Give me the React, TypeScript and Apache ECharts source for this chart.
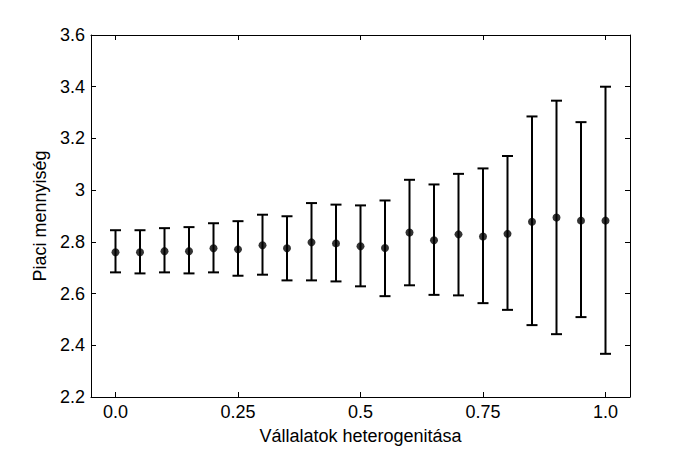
import React, { useEffect, useRef } from "react";
import * as echarts from "echarts";

const xValues = [0, 0.05, 0.1, 0.15, 0.2, 0.25, 0.3, 0.35, 0.4, 0.45, 0.5, 0.55, 0.6, 0.65, 0.7, 0.75, 0.8, 0.85, 0.9, 0.95, 1.0];
const means = [2.760, 2.760, 2.764, 2.764, 2.775, 2.771, 2.787, 2.775, 2.798, 2.794, 2.783, 2.776, 2.836, 2.806, 2.829, 2.821, 2.831, 2.878, 2.894, 2.882, 2.882];
const uppers = [2.845, 2.845, 2.853, 2.857, 2.872, 2.880, 2.905, 2.899, 2.950, 2.944, 2.941, 2.960, 3.040, 3.022, 3.063, 3.084, 3.132, 3.285, 3.346, 3.263, 3.400];
const lowers = [2.682, 2.678, 2.682, 2.678, 2.682, 2.669, 2.673, 2.651, 2.651, 2.647, 2.628, 2.590, 2.632, 2.595, 2.593, 2.563, 2.537, 2.478, 2.443, 2.509, 2.367];
const xTicks = [0, 0.25, 0.5, 0.75, 1.0];
const xTickLabels = ["0.0", "0.25", "0.5", "0.75", "1.0"];

const FONT = "'Liberation Sans', Arial, sans-serif";
const FS = 18;

export default function App() {
  const ref = useRef<HTMLDivElement>(null);
  useEffect(() => {
    if (!ref.current) return;
    const chart = echarts.init(ref.current, null, { renderer: "svg" });
    const axisLine = { show: true, onZero: false, lineStyle: { color: "#000", width: 1 } };
    const tickIn = { show: true, inside: true, length: 5, lineStyle: { color: "#000" } };
    chart.setOption({
      animation: false,
      backgroundColor: "#fff",
      grid: { left: 91, right: 66, top: 35, bottom: 49 },
      xAxis: [
        {
          type: "value",
          min: -0.05,
          max: 1.05,
          name: "Vállalatok heterogenitása",
          nameLocation: "middle",
          nameGap: 30,
          nameTextStyle: { color: "#000", fontSize: FS, fontFamily: FONT },
          axisLine,
          axisTick: { ...tickIn, customValues: xTicks },
          axisLabel: {
            customValues: xTicks,
            color: "#000",
            fontSize: FS,
            fontFamily: FONT,
            margin: 6,
            formatter: (v: number) => {
              const i = xTicks.findIndex((t) => Math.abs(t - v) < 1e-9);
              return i >= 0 ? xTickLabels[i] : "";
            },
          },
          splitLine: { show: false },
        },
        {
          type: "value",
          position: "top",
          min: -0.05,
          max: 1.05,
          axisLine,
          axisTick: { ...tickIn, customValues: xTicks },
          axisLabel: { show: false },
          splitLine: { show: false },
        },
      ],
      yAxis: [
        {
          type: "value",
          min: 2.2,
          max: 3.6,
          interval: 0.2,
          name: "Piaci mennyiség",
          nameLocation: "middle",
          nameGap: 40,
          nameTextStyle: { color: "#000", fontSize: FS, fontFamily: FONT },
          axisLine,
          axisTick: tickIn,
          axisLabel: { color: "#000", fontSize: FS, fontFamily: FONT, margin: 6 },
          splitLine: { show: false },
        },
        {
          type: "value",
          position: "right",
          min: 2.2,
          max: 3.6,
          interval: 0.2,
          axisLine,
          axisTick: tickIn,
          axisLabel: { show: false },
          splitLine: { show: false },
        },
      ],
      series: [
        {
          type: "custom",
          xAxisIndex: 0,
          yAxisIndex: 0,
          data: xValues.map((x, i) => [x, lowers[i], uppers[i]]),
          renderItem: (params: any, api: any) => {
            const x = api.value(0);
            const lo = api.coord([x, api.value(1)]);
            const hi = api.coord([x, api.value(2)]);
            const hw = 5.5;
            const style = { stroke: "#000", lineWidth: 2 };
            return {
              type: "group",
              children: [
                { type: "line", shape: { x1: lo[0], y1: lo[1], x2: hi[0], y2: hi[1] }, style },
                { type: "line", shape: { x1: hi[0] - hw, y1: hi[1], x2: hi[0] + hw, y2: hi[1] }, style },
                { type: "line", shape: { x1: lo[0] - hw, y1: lo[1], x2: lo[0] + hw, y2: lo[1] }, style },
              ],
            };
          },
          z: 2,
        },
        {
          type: "scatter",
          xAxisIndex: 0,
          yAxisIndex: 0,
          data: xValues.map((x, i) => [x, means[i]]),
          symbol: "circle",
          symbolSize: 8,
          itemStyle: { color: "#000" },
          z: 3,
        },
      ],
    });
    return () => chart.dispose();
  }, []);
  return (
    <div
      ref={ref}
      style={{ position: "fixed", left: 0, top: 0, width: 696, height: 450 }}
    />
  );
}
